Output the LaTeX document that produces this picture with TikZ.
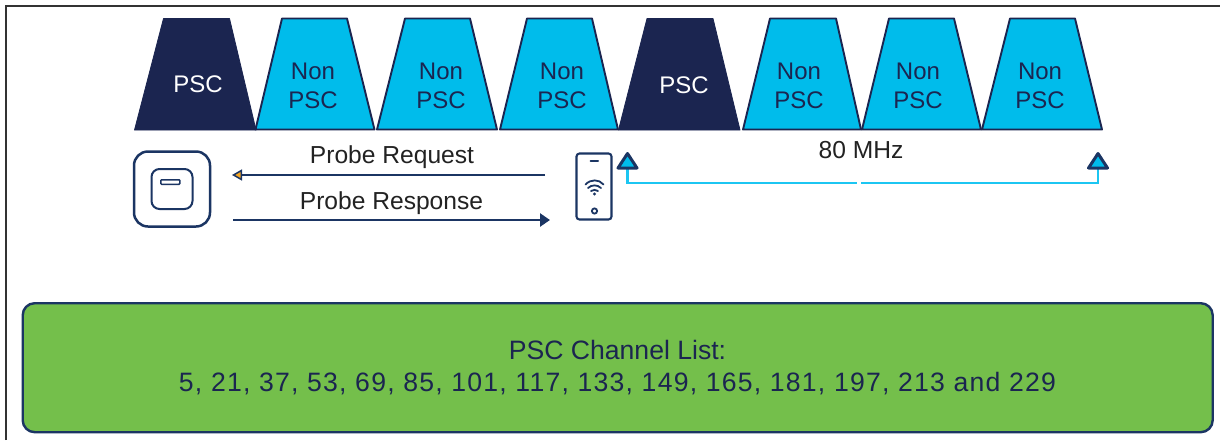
\documentclass[tikz,border=0pt]{standalone}
\usepackage{fontspec}
\setmainfont{Liberation Sans}
\usetikzlibrary{arrows.meta}
\definecolor{navy}{HTML}{1B2550}
\definecolor{edge}{HTML}{1B3563}
\definecolor{cyanfill}{HTML}{00BCEB}
\definecolor{cyanline}{HTML}{1CC6F2}
\definecolor{greenfill}{HTML}{74BF4B}
\definecolor{orangetip}{HTML}{F5A623}
\definecolor{labelink}{HTML}{222222}
\definecolor{framegrey}{HTML}{333333}
\tikzset{
  pscband/.style={fill=navy,draw=navy,line width=0.8pt,line join=round},
  nonband/.style={fill=cyanfill,draw=navy,line width=1.9pt,line join=round},
  bandtext/.style={font=\fontsize{24}{28}\selectfont,inner sep=0pt},
  probelabel/.style={font=\fontsize{24.6}{28}\selectfont,text=labelink,inner sep=0pt},
  icon/.style={draw=edge,line width=2.5pt},
  marker/.style={fill=cyanfill,draw=edge,line width=3pt,line join=round},
  span/.style={draw=cyanline,line width=2.8pt},
  probearrow/.style={draw=edge,line width=2.8pt},
}
\newcommand{\bandshape}[7]{\path[#1] (#2,18.5) -- (#3,18.5) -- (#5,#7) -- (#4,#7) -- cycle;}
\begin{document}
\begin{tikzpicture}[x=1pt,y=-1pt]
\useasboundingbox (0,0) rectangle (1220,440);
\fill[white] (0,0) rectangle (1220,440);
% frame
\draw[framegrey,line width=2.2pt] (6,440) -- (6,6) -- (1220,6);
% bands
\bandshape{pscband}{163.5}{229.5}{134.5}{256}{}{130}
\bandshape{nonband}{282}{347}{255.5}{374.5}{}{129.5}
\bandshape{nonband}{405}{470}{377}{497}{}{129.5}
\bandshape{nonband}{527}{592}{500}{618}{}{129.5}
\bandshape{pscband}{647}{713}{618.5}{740}{}{130}
\bandshape{nonband}{770}{836}{743}{861}{}{129.5}
\bandshape{nonband}{889}{954}{862}{981}{}{129.5}
\bandshape{nonband}{1010}{1075}{982}{1102}{}{129.5}
\node[bandtext,text=white] (pscone) at (198,84) {PSC};
\node[bandtext,text=white] (psctwo) at (684,85) {PSC};
\foreach \n/\x in {a/313,b/441,c/562,d/799,e/918,f/1040}{
  \node[bandtext,text=navy] (non\n) at (\x,71) {Non};
  \node[bandtext,text=navy] (nonpsc\n) at (\x,100) {PSC};
}
% access point
\node[icon,rounded corners=14pt,minimum width=76pt,minimum height=75pt,inner sep=0pt] (ap) at (172,189) {};
\node[icon,line width=2pt,rounded corners=8pt,minimum width=41pt,minimum height=40pt,inner sep=0pt] (apinner) at (172,189) {};
\node[icon,line width=1.5pt,rounded corners=0.8pt,minimum width=19pt,minimum height=4.5pt,inner sep=0pt] (apled) at (170.3,182) {};
% phone
\node[icon,line width=2.1pt,rounded corners=3pt,minimum width=35pt,minimum height=66pt,inner sep=0pt] (phone) at (594,186.5) {};
\draw[icon,line width=2pt,line cap=round] (590.5,160.5) -- (598,160.5);
\draw[icon,line width=1.8pt,line cap=round] (585.5,184.5) .. controls (590.5,179) and (599,179) .. (603.5,184.5);
\draw[icon,line width=1.8pt,line cap=round] (588,188) .. controls (591.5,184.5) and (597.5,184.5) .. (601,188);
\draw[icon,line width=1.8pt,line cap=round] (591,191) .. controls (593,189.5) and (596,189.5) .. (598,191);
\fill[edge] (594.5,194) circle (1.7);
\draw[icon,line width=1.8pt] (594.5,211) circle (2.6);
% probe arrows
\coordinate (reqstart) at (545,175);
\coordinate (reqend) at (232,175);
\coordinate (respstart) at (233,220);
\coordinate (respend) at (550,220);
\draw[probearrow,-{Triangle[length=10pt,width=11pt,fill=orangetip,line width=1.5pt]}] (reqstart) -- (reqend);
\draw[probearrow,-{Triangle[length=10pt,width=13pt,fill=edge]}] (respstart) -- (respend);
\node[probelabel] (req) at (392,157.5) {Probe Request};
\node[probelabel] (resp) at (391.5,203.5) {Probe Response};
% 80 MHz span
\coordinate (spanl) at (627.5,168);
\coordinate (spanr) at (1098,168);
\coordinate (gapl) at (857,183);
\coordinate (gapr) at (861,183);
\draw[span] (spanl) -- (spanl |- gapl) -- (gapl);
\draw[span] (gapr) -- (spanr |- gapr) -- (spanr);
\path[marker] (627.5,153.5) -- (637,168) -- (618,168) -- cycle;
\path[marker] (1098,153.5) -- (1107.5,168) -- (1088.5,168) -- cycle;
\node[probelabel] (mhz) at (861,150) {80 MHz};
% channel list
\node[fill=greenfill,draw=edge,line width=2.4pt,rounded corners=12pt,minimum width=1190pt,minimum height=129pt,inner sep=0pt] (list) at (617.7,367.7) {};
\node[font=\fontsize{26.6}{32}\selectfont,text=navy,align=center,inner sep=0pt] (listtext) at (617.5,368) {PSC Channel List:\\\addfontfeature{LetterSpace=4.65}5, 21, 37, 53, 69, 85, 101, 117, 133, 149, 165, 181, 197, 213 and 229};
\end{tikzpicture}
\end{document}
